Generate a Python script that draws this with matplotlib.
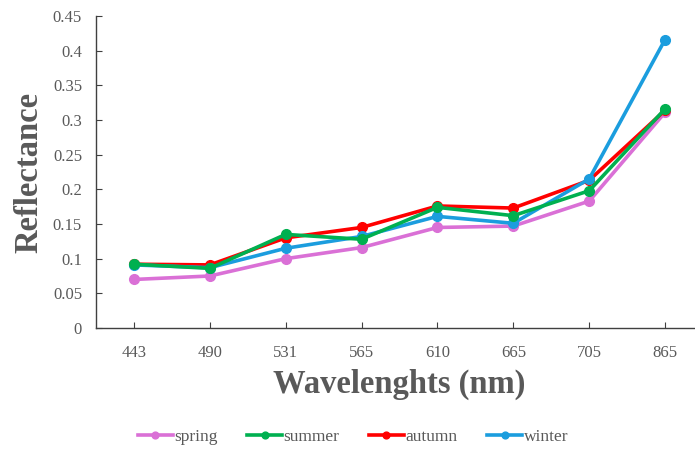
import numpy as np
import matplotlib
matplotlib.use("Agg")
import matplotlib.pyplot as plt

# values
wavelengths = ["443", "490", "531", "565", "610", "665", "705", "865"]
spring = [0.070, 0.075, 0.100, 0.116, 0.145, 0.147, 0.183, 0.311]
summer = [0.092, 0.086, 0.135, 0.128, 0.174, 0.162, 0.198, 0.316]
autumn = [0.092, 0.091, 0.130, 0.145, 0.176, 0.173, 0.213, 0.314]
winter = [0.091, 0.087, 0.115, 0.132, 0.161, 0.151, 0.215, 0.416]

# name, values, colour, drawing order
series = [("spring", spring, "#DA70D6", 2),
          ("summer", summer, "#00B050", 5),
          ("autumn", autumn, "#FF0000", 3),
          ("winter", winter, "#1B9DDE", 4)]

plt.rcParams['font.family'] = ['Liberation Serif', 'DejaVu Serif']
grey = "#595959"

W, H = 695, 450
fig = plt.figure(figsize=(W/100, H/100), dpi=100)
# axes box in pixels: left 96, right 703 (cut off at the edge), top 16, bottom 328
ax = fig.add_axes([96/W, (H-328)/H, (703-96)/W, (328-16)/H])

x = np.arange(len(wavelengths))
for name, vals, col, z in series:
    ax.plot(x, vals, color=col, lw=2.6, marker="o", ms=7, label=name,
            solid_joinstyle="round", zorder=z)

ax.set_xlim(-0.5, len(wavelengths) - 0.5)
ax.set_ylim(0, 0.45)
ax.set_yticks(np.arange(0, 0.451, 0.05))
ax.set_yticklabels(["0", "0.05", "0.1", "0.15", "0.2", "0.25", "0.3",
                    "0.35", "0.4", "0.45"])
ax.set_xticks(x)
ax.set_xticklabels(wavelengths)

for s in ["top", "right"]:
    ax.spines[s].set_visible(False)
for s in ["left", "bottom"]:
    ax.spines[s].set_color("#404040")
    ax.spines[s].set_linewidth(1.0)

ax.tick_params(axis="y", direction="in", length=4, color="#404040",
               labelsize=12, labelcolor=grey, pad=10)
ax.tick_params(axis="x", direction="in", length=4, color="#404040",
               labelsize=12, labelcolor=grey, pad=12)

ax.set_xlabel("Wavelenghts (nm)", fontsize=23.5, fontweight="bold",
              color=grey, labelpad=6)
ax.set_ylabel("Reflectance", fontsize=23.5, fontweight="bold",
              color=grey, labelpad=6)

leg = fig.legend(loc="center", bbox_to_anchor=(353/W, 1 - 437/H), ncol=4,
                 frameon=False, fontsize=12.5, handlelength=2.0,
                 handletextpad=0.1, columnspacing=1.7, markerscale=0.7)
for t in leg.get_texts():
    t.set_color(grey)

fig.savefig("out.png", dpi=100)
